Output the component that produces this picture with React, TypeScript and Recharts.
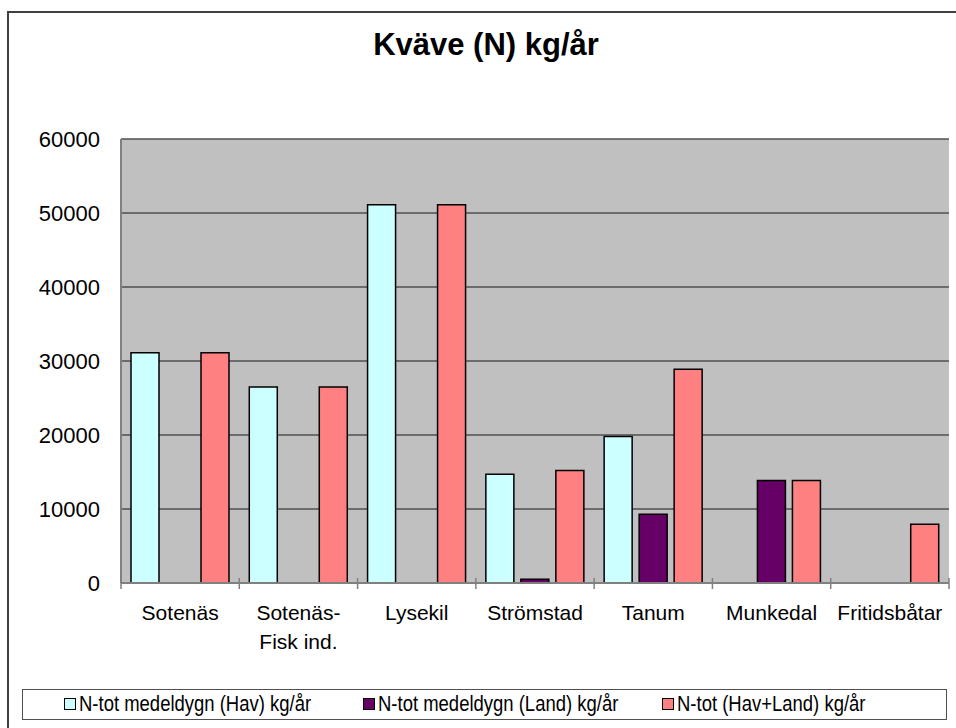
import React from "react";
import { BarChart, Bar, XAxis, YAxis, CartesianGrid } from "recharts";

const categories = [
  "Sotenäs",
  "Sotenäs-\nFisk ind.",
  "Lysekil",
  "Strömstad",
  "Tanum",
  "Munkedal",
  "Fritidsbåtar",
];
const havValues = [31100, 26500, 51100, 14700, 19800, null, null];
const landValues = [null, null, null, 500, 9300, 13850, null];
const totalValues = [31100, 26500, 51100, 15200, 28900, 13850, 7950];
const yTicks = [0, 10000, 20000, 30000, 40000, 50000, 60000];
const seriesKeys = ["hav", "land", "total"];
const seriesNames = [
  "N-tot medeldygn (Hav) kg/år",
  "N-tot medeldygn (Land) kg/år",
  "N-tot (Hav+Land) kg/år",
];
const seriesColors = ["#CCFFFF", "#660066", "#FF8080"];

const data = categories.map((name, i) => ({
  name,
  hav: havValues[i],
  land: landValues[i],
  total: totalValues[i],
}));

const font = "'Liberation Sans', Arial, sans-serif";

function CategoryTick(props: any) {
  const { x, y, payload, index } = props;
  const lines = String(payload.value).split("\n");
  const half = payload.offset ?? 0;
  const axisY = y - 22;
  return (
    <g>
      <line x1={x - half} x2={x - half} y1={axisY - 5} y2={axisY + 6} stroke="#808080" strokeWidth={1.5} />
      {index === categories.length - 1 && (
        <line x1={x + half} x2={x + half} y1={axisY - 5} y2={axisY + 6} stroke="#808080" strokeWidth={1.5} />
      )}
      <text x={x} y={y} textAnchor="middle" fontSize={21} fill="#000" fontFamily={font}>
        {lines.map((l, i) => (
          <tspan key={i} x={x} dy={i === 0 ? "0.71em" : 29}>
            {l}
          </tspan>
        ))}
      </text>
    </g>
  );
}

// legend columns are equal width, like the original
const legendLeft = 63;
const legendColumn = 299;

export default function App() {
  return (
    <div
      style={{
        position: "fixed",
        top: 0,
        left: 0,
        width: 956,
        height: 728,
        overflow: "hidden",
        background: "#fff",
        fontFamily: font,
      }}
    >
      <div
        style={{
          position: "absolute",
          left: 7,
          top: 11,
          width: 1000,
          height: 1000,
          border: "2px solid #404040",
        }}
      />
      <div
        style={{
          position: "absolute",
          left: 0,
          top: 30,
          width: 972,
          lineHeight: "30px",
          fontSize: 31,
          fontWeight: "bold",
          textAlign: "center",
        }}
      >
        Kväve (N) kg/år
      </div>
      <div style={{ position: "absolute", left: 0, top: 0 }}>
        <BarChart
          width={956}
          height={728}
          data={data}
          margin={{ top: 139, right: 7, left: 0, bottom: 85 }}
          barSize={28}
          barGap={7}
          style={{ fontFamily: font }}
        >
          <CartesianGrid
            vertical={false}
            fill="#C0C0C0"
            stroke="#505050"
            strokeWidth={1.5}
            fillOpacity={1}
          />
          <XAxis
            dataKey="name"
            interval={0}
            height={60}
            tickLine={false}
            tickSize={0}
            tickMargin={22}
            axisLine={{ stroke: "#808080", strokeWidth: 2 }}
            tick={<CategoryTick />}
          />
          <YAxis
            domain={[0, 60000]}
            ticks={yTicks}
            width={121}
            tickLine={false}
            tickSize={6}
            tickMargin={15}
            axisLine={{ stroke: "#808080", strokeWidth: 2 }}
            tick={{ fontSize: 22, fill: "#000" }}
          />
          <YAxis
            yAxisId="r"
            orientation="right"
            domain={[0, 60000]}
            width={0}
            tick={false}
            tickLine={false}
            axisLine={{ stroke: "#808080", strokeWidth: 2 }}
          />
          {seriesKeys.map((k, i) => (
            <Bar
              key={k}
              dataKey={k}
              name={seriesNames[i]}
              fill={seriesColors[i]}
              stroke="#000"
              strokeWidth={1.5}
              isAnimationActive={false}
            />
          ))}
        </BarChart>
      </div>
      <div
        style={{
          position: "absolute",
          left: 22,
          top: 689,
          width: 925,
          height: 31,
          border: "1.5px solid #505050",
          boxSizing: "border-box",
        }}
      >
        {seriesNames.map((n, i) => (
          <div
            key={n}
            style={{
              position: "absolute",
              left: legendLeft - 22 + i * legendColumn,
              top: 0,
              height: 28,
              display: "flex",
              alignItems: "center",
              whiteSpace: "nowrap",
            }}
          >
            <span
              style={{
                display: "inline-block",
                width: 10,
                height: 10,
                background: seriesColors[i],
                border: "1.5px solid #000",
                marginRight: 3,
              }}
            />
            <span
              style={{
                display: "inline-block",
                fontSize: 22,
                transform: "scaleX(0.84)",
                transformOrigin: "left center",
              }}
            >
              {n}
            </span>
          </div>
        ))}
      </div>
    </div>
  );
}
